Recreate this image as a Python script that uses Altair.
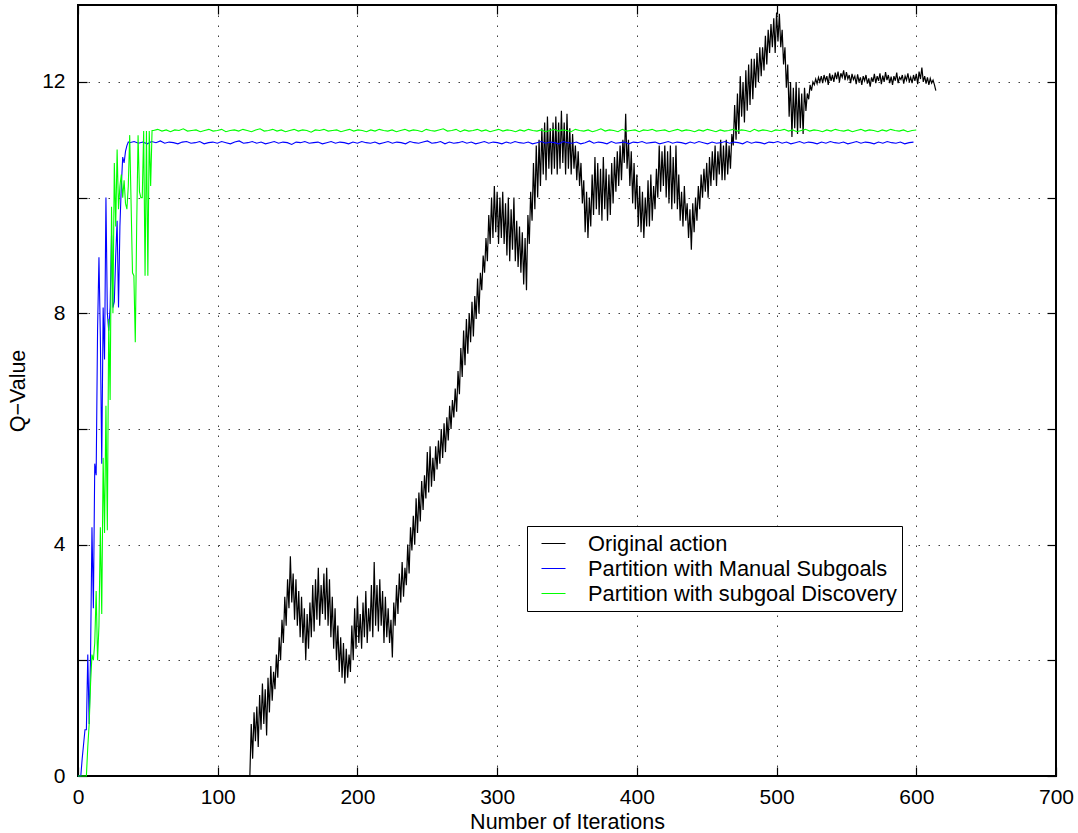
import altair as alt
import pandas as pd

FONT = "Liberation Sans"

NAMES = ["Original action", "Partition with Manual Subgoals", "Partition with subgoal Discovery"]
COLORS = ["#000000", "#0000ff", "#00ff00"]

X_TICKS = [0, 100, 200, 300, 400, 500, 600, 700]
Y_TICKS = [0, 2, 4, 6, 8, 10, 12]

# Original action: one value per iteration, starting at iteration 123
black_start = 123
black_y = [
    0.0, 0.9, 0.3, 1.1, 0.6, 1.2, 0.5, 1.4, 0.8, 1.6, 0.9, 1.5, 0.7, 1.7, 1.1, 1.9, 1.3, 1.8, 1.5, 2.1,
    1.7, 2.4, 2.0, 2.7, 2.3, 3.1, 2.6, 3.4, 2.9, 3.8, 3.0, 3.5, 2.7, 3.4, 2.6, 3.2, 2.4, 3.1, 2.3, 2.9,
    2.0, 2.8, 2.2, 3.0, 2.4, 3.3, 2.5, 3.4, 2.7, 3.6, 2.6, 3.3, 2.8, 3.5, 2.7, 3.6, 2.6, 3.4, 2.4, 3.1,
    2.2, 2.9, 2.0, 2.6, 1.8, 2.4, 1.7, 2.3, 1.6, 2.2, 1.7, 2.1, 1.8, 2.6, 2.0, 2.9, 2.2, 3.1, 2.3, 2.8,
    2.2, 3.0, 2.4, 3.2, 2.3, 2.9, 2.5, 3.3, 2.4, 3.7, 2.6, 3.3, 2.5, 3.4, 2.6, 3.2, 2.3, 3.1, 2.4, 2.9,
    2.3, 2.7, 2.05, 3.0, 2.6, 3.3, 2.8, 3.5, 3.0, 3.7, 3.1, 3.6, 3.3, 4.0, 3.5, 4.3, 3.9, 4.5, 4.0, 4.8,
    4.2, 4.9, 4.4, 5.1, 4.6, 5.2, 4.8, 5.6, 4.9, 5.7, 5.0, 5.5, 5.1, 5.7, 5.3, 5.8, 5.4, 6.0, 5.5, 6.1,
    5.6, 6.2, 5.8, 6.4, 6.0, 6.5, 6.2, 6.7, 6.3, 7.0, 6.6, 7.4, 6.9, 7.7, 7.1, 7.9, 7.3, 8.0, 7.5, 8.2,
    7.6, 8.3, 7.9, 8.6, 8.0, 8.7, 8.4, 9.0, 8.7, 9.3, 8.9, 9.7, 9.2, 10.0, 9.3, 10.2, 9.4, 10.1, 9.2, 10.0,
    9.3, 10.1, 9.2, 9.9, 9.0, 10.0, 8.9, 9.8, 9.1, 10.0, 8.9, 9.6, 8.8, 9.5, 8.7, 9.4, 8.5, 9.3, 8.4, 9.7,
    9.2, 10.1, 9.6, 10.6, 9.8, 10.9, 10.0, 11.0, 10.2, 11.2, 10.4, 11.3, 10.3, 11.4, 10.5, 11.2, 10.4, 11.3, 10.5, 11.4,
    10.4, 11.3, 10.5, 11.5, 10.6, 11.3, 10.4, 11.45, 10.5, 11.2, 10.4, 11.1, 10.5, 10.9, 10.3, 10.8, 10.2, 10.6, 9.9, 10.3,
    9.4, 10.1, 9.3, 10.0, 9.5, 10.4, 9.7, 10.7, 9.8, 10.6, 9.7, 10.5, 9.6, 10.7, 9.8, 10.5, 9.6, 10.4, 9.7, 10.6,
    9.9, 10.7, 10.1, 10.8, 10.2, 10.9, 10.3, 11.0, 10.6, 11.45, 10.5, 11.0, 10.2, 10.8, 9.9, 10.6, 9.8, 10.4, 9.5, 10.2,
    9.4, 10.1, 9.3, 10.0, 9.5, 10.3, 9.5, 10.4, 9.6, 10.2, 9.8, 10.5, 10.0, 10.9, 10.1, 10.8, 10.2, 10.9, 10.0, 10.8,
    9.9, 10.9, 9.8, 10.7, 9.9, 10.9, 9.8, 10.4, 9.6, 10.1, 9.5, 10.2, 9.6, 9.9, 9.3, 9.8, 9.1, 9.9, 9.4, 10.0,
    9.6, 10.2, 9.8, 10.4, 10.0, 10.5, 10.1, 10.6, 10.0, 10.7, 10.2, 10.8, 10.3, 10.9, 10.2, 10.8, 10.4, 11.0, 10.3, 10.9,
    10.3, 11.0, 10.4, 10.9, 10.5, 11.1, 10.9, 11.6, 11.0, 11.8, 11.1, 12.1, 11.4, 12.0, 11.3, 12.2, 11.5, 12.3, 11.6, 12.4,
    11.7, 12.4, 11.9, 12.5, 12.0, 12.6, 12.1, 12.6, 12.2, 12.8, 12.3, 12.9, 12.5, 13.0, 12.6, 13.1, 12.5, 13.2, 12.7, 13.18,
    12.6, 12.9, 12.3, 12.6, 11.9, 12.3, 11.4, 12.0, 11.05, 11.9, 11.2, 12.0, 11.1, 11.9, 11.2, 11.8, 11.1, 11.9, 11.5, 11.8,
    11.7, 11.95, 11.85, 12.0, 11.95, 12.05, 11.97, 12.08, 12.0, 12.1, 11.98, 12.12, 12.02, 12.1, 11.95, 12.15, 12.02, 12.12, 12.0, 12.16,
    12.05, 12.18, 12.0, 12.15, 12.08, 12.2, 12.03, 12.17, 12.05, 12.12, 11.98, 12.14, 12.04, 12.1, 11.96, 12.13, 12.0, 12.08, 11.95, 12.1,
    12.02, 12.12, 11.97, 12.06, 11.92, 12.08, 12.0, 12.14, 11.98, 12.1, 12.02, 12.15, 11.96, 12.11, 12.0, 12.17, 12.03, 12.12, 11.98, 12.09,
    11.95, 12.1, 12.02, 12.16, 11.98, 12.08, 12.04, 12.12, 11.97, 12.1, 12.03, 12.15, 12.0, 12.08, 11.98, 12.12, 12.02, 12.14, 11.96, 12.18,
    12.05, 12.25, 12.0, 12.1, 11.97, 12.08, 11.95, 12.06, 11.98, 12.03, 11.95, 11.85,
]

# Manual subgoals: iterations 0..36, then plateau sampled up to iteration 598
blue_early_y = [
    0, 0, 0, 0.3, 0.55, 0.8, 0.8, 2.1, 0.9, 2.1,
    4.3, 2.9, 5.4, 5.2, 7.7, 8.97, 7.6, 5.4, 8.1, 7.2,
    10.0, 8.0, 7.7, 8.1, 9.35, 8.1, 8.2, 9.0, 9.6, 8.1,
    9.5, 10.2, 10.7, 10.6, 10.8, 10.9, 10.96,
]
blue_plateau_range = [37, 598]
blue_plateau_y = [
    10.95, 10.97, 10.94, 10.96, 10.93, 10.97, 10.95, 10.98, 10.94, 10.96,
    10.95, 10.93, 10.96, 10.97, 10.94, 10.95, 10.97, 10.93, 10.95, 10.96,
    10.94, 10.97, 10.95, 10.93, 10.96, 10.98, 10.94, 10.95, 10.97, 10.94,
    10.96, 10.93, 10.95, 10.97, 10.94, 10.96, 10.95, 10.92, 10.96, 10.95,
    10.97, 10.94, 10.95, 10.96, 10.93, 10.95, 10.97, 10.94, 10.96, 10.95,
    10.93, 10.96, 10.94, 10.97, 10.95, 10.94, 10.96, 10.93, 10.95, 10.97,
    10.94, 10.96, 10.95, 10.93, 10.97, 10.95, 10.94, 10.96, 10.98, 10.94,
    10.95, 10.97, 10.93, 10.96, 10.94, 10.95, 10.97, 10.94, 10.96, 10.93,
    10.95, 10.97, 10.94, 10.96, 10.95, 10.93, 10.96, 10.94, 10.97, 10.95,
    10.94, 10.96, 10.93, 10.95, 10.97, 10.94, 10.96, 10.95, 10.93, 10.97,
    10.95, 10.94, 10.96, 10.93, 10.95, 10.98, 10.94, 10.96, 10.95, 10.93,
    10.97, 10.94, 10.95, 10.96, 10.93, 10.96, 10.95, 10.97, 10.94, 10.95,
    10.96, 10.93, 10.95, 10.97, 10.94, 10.96, 10.95, 10.93, 10.96, 10.94,
    10.97, 10.95, 10.93, 10.96, 10.94, 10.95, 10.97, 10.94, 10.96, 10.95,
    10.93, 10.97, 10.94, 10.96, 10.95, 10.93, 10.96, 10.95, 10.97, 10.94,
    10.96, 10.93, 10.95, 10.97, 10.94, 10.96, 10.95, 10.93, 10.96, 10.94,
    10.97, 10.95, 10.94, 10.96, 10.93, 10.95, 10.97, 10.94, 10.96, 10.95,
    10.93, 10.96, 10.94, 10.97, 10.95, 10.94, 10.96, 10.93, 10.95, 10.96,
]

# Subgoal discovery: iterations 0..53, then plateau sampled up to iteration 600
green_early_y = [
    0, 0, 0, 0, 0, 0, 0, 0.5, 0.9, 1.6,
    2.1, 2.0, 2.3, 3.2, 2.0, 2.6, 4.3, 2.8, 5.5, 4.2,
    6.4, 4.25, 7.9, 6.5, 9.84, 8.0, 10.6, 9.5, 10.83, 9.8,
    10.2, 10.4, 10.0, 10.3, 9.9, 9.8, 10.2, 11.08, 9.9, 8.7,
    8.65, 7.5, 9.5, 11.08, 10.1, 10.0, 10.0, 11.15, 8.65, 11.15,
    8.65, 11.15, 10.2, 11.16,
]
green_plateau_range = [54, 600]
green_plateau_y = [
    11.16, 11.18, 11.15, 11.17, 11.14, 11.17, 11.16, 11.19, 11.15, 11.16,
    11.17, 11.14, 11.16, 11.18, 11.15, 11.16, 11.18, 11.14, 11.16, 11.17,
    11.15, 11.18, 11.16, 11.14, 11.17, 11.19, 11.15, 11.16, 11.18, 11.15,
    11.17, 11.14, 11.16, 11.18, 11.15, 11.17, 11.16, 11.13, 11.17, 11.16,
    11.18, 11.15, 11.16, 11.17, 11.14, 11.16, 11.18, 11.15, 11.17, 11.16,
    11.14, 11.17, 11.15, 11.18, 11.16, 11.15, 11.17, 11.14, 11.16, 11.18,
    11.15, 11.17, 11.16, 11.14, 11.18, 11.16, 11.15, 11.17, 11.19, 11.15,
    11.16, 11.18, 11.14, 11.17, 11.15, 11.16, 11.18, 11.15, 11.17, 11.14,
    11.16, 11.18, 11.15, 11.17, 11.16, 11.14, 11.17, 11.15, 11.18, 11.16,
    11.15, 11.17, 11.14, 11.16, 11.18, 11.15, 11.17, 11.16, 11.14, 11.18,
    11.16, 11.15, 11.17, 11.14, 11.16, 11.19, 11.15, 11.17, 11.16, 11.14,
    11.18, 11.15, 11.16, 11.17, 11.14, 11.17, 11.16, 11.18, 11.15, 11.16,
    11.17, 11.14, 11.16, 11.18, 11.15, 11.17, 11.16, 11.14, 11.17, 11.15,
    11.18, 11.16, 11.14, 11.17, 11.15, 11.16, 11.18, 11.15, 11.17, 11.16,
    11.14, 11.18, 11.15, 11.17, 11.16, 11.14, 11.17, 11.16, 11.18, 11.15,
    11.17, 11.14, 11.16, 11.18, 11.15, 11.17, 11.16, 11.14, 11.17, 11.15,
    11.18, 11.16, 11.15, 11.17, 11.14, 11.16, 11.18, 11.15, 11.17, 11.16,
    11.14, 11.17, 11.15, 11.18, 11.16, 11.15, 11.17, 11.14, 11.16, 11.17,
]


def rows(name, early, start, plateau=None, prange=None):
    out = []
    for i, v in enumerate(early):
        out.append({"x": start + i, "y": v, "series": name})
    if plateau:
        a, b = prange
        n = len(plateau)
        for i, v in enumerate(plateau):
            out.append({"x": a + i * (b - a) / (n - 1), "y": v, "series": name})
    return out


df_black = pd.DataFrame(rows(NAMES[0], black_y, black_start))
df_blue = pd.DataFrame(rows(NAMES[1], blue_early_y, 0, blue_plateau_y, blue_plateau_range))
df_green = pd.DataFrame(rows(NAMES[2], green_early_y, 0, green_plateau_y, green_plateau_range))

W, H = 978, 771
xscale = alt.Scale(domain=[0, 700], nice=False, zero=False)
yscale = alt.Scale(domain=[0, 13.33], nice=False, zero=False)

color = alt.Color(
    "series:N",
    scale=alt.Scale(domain=NAMES, range=COLORS),
    legend=alt.Legend(
        orient="none", legendX=449, legendY=521, title=None,
        fillColor="white", strokeColor="black", padding=5,
        symbolType="stroke", symbolSize=576, symbolStrokeWidth=1,
        symbolOffset=9, labelOffset=22, rowPadding=-1,
        labelFont=FONT, labelFontSize=21.8, labelColor="black", labelLimit=0,
    ),
)

grid_kw = dict(grid=True, gridColor="black", gridOpacity=0.75, gridDash=[1.5, 8.5], gridWidth=1)

x_main = alt.Axis(
    values=X_TICKS, format="d", orient="bottom", ticks=False, tickSize=0, domain=False,
    labelFlush=False, labelOverlap=False,
    labelPadding=10, labelFont=FONT, labelFontSize=21, labelColor="black",
    title="Number of Iterations", titleFont=FONT, titleFontSize=21.5, titleFontWeight="normal",
    titleColor="black", titleX=W / 2, titleY=52, titleBaseline="alphabetic", titleAlign="center",
    **grid_kw,
)
y_main = alt.Axis(
    values=Y_TICKS, orient="left", ticks=False, tickSize=0, domain=False,
    labelFlush=False, labelOverlap=False,
    labelExpr="datum.value % 4 == 0 ? datum.label : ''",
    labelPadding=13, labelFont=FONT, labelFontSize=21, labelColor="black",
    title="Q\u2212Value", titleFont=FONT, titleFontSize=21.5, titleFontWeight="normal",
    titleColor="black", titleX=-60, titleY=H / 2, titleAngle=270,
    titleBaseline="middle", titleAlign="center",
    **grid_kw,
)


def inner_axis(orient, values):
    return alt.Axis(
        values=values, orient=orient, offset=-9, tickSize=9, ticks=True, tickColor="black",
        tickWidth=1.2, labels=False, domain=False, grid=False, title=None,
    )


black = alt.Chart(df_black).mark_line(strokeWidth=1.2).encode(
    x=alt.X("x:Q", scale=xscale, axis=x_main),
    y=alt.Y("y:Q", scale=yscale, axis=y_main),
    color=color,
)
blue = alt.Chart(df_blue).mark_line(strokeWidth=1.1).encode(
    x=alt.X("x:Q", scale=xscale, axis=inner_axis("bottom", X_TICKS)),
    y=alt.Y("y:Q", scale=yscale, axis=inner_axis("left", Y_TICKS)),
    color=color,
)
green = alt.Chart(df_green).mark_line(strokeWidth=1.1).encode(
    x=alt.X("x:Q", scale=xscale, axis=inner_axis("top", X_TICKS)),
    y=alt.Y("y:Q", scale=yscale, axis=inner_axis("right", Y_TICKS)),
    color=color,
)

chart = (
    alt.layer(black, blue, green)
    .resolve_axis(x="independent", y="independent")
    .properties(
        width=W, height=H,
        autosize=alt.AutoSizeParams(type="none"),
        padding={"left": 78, "top": 5, "right": 22, "bottom": 57},
        background="white",
    )
    .configure_view(stroke="black", strokeWidth=2, fill="white")
)

chart.save("out.html", embed_options={"renderer": "svg", "actions": False})
